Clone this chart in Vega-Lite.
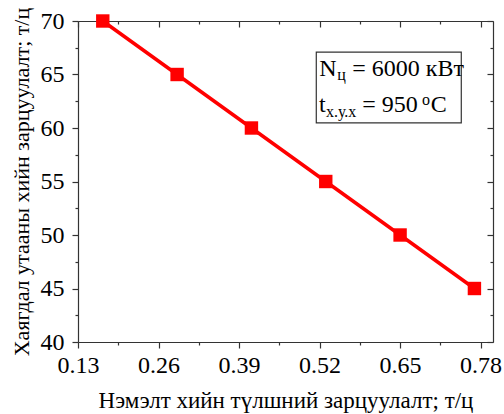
{
  "$schema": "https://vega.github.io/schema/vega-lite/v6.json",
  "width": 415,
  "height": 321,
  "autosize": "none",
  "padding": {"left": 78, "top": 21, "right": 11, "bottom": 72},
  "background": "white",
  "config": {
    "view": {"stroke": null},
    "font": "'Liberation Serif', 'Times New Roman', 'DejaVu Serif', serif",
    "axis": {
      "grid": false,
      "domainColor": "#333333",
      "domainWidth": 1.2,
      "tickColor": "#333333",
      "tickWidth": 1.2,
      "labelColor": "#000000",
      "labelFont": "'Liberation Serif', 'Times New Roman', 'DejaVu Serif', serif",
      "labelFontSize": 24,
      "labelFlush": false,
      "labelOverlap": false,
      "labelBound": false,
      "titleFont": "'Liberation Serif', 'Times New Roman', 'DejaVu Serif', serif",
      "titleFontSize": 23,
      "titleFontWeight": "normal",
      "titleColor": "#000000"
    }
  },
  "datasets": {
    "series": [
      {"x": 0.17, "y": 70},
      {"x": 0.29, "y": 65},
      {"x": 0.41, "y": 60},
      {"x": 0.53, "y": 55},
      {"x": 0.65, "y": 50},
      {"x": 0.77, "y": 45}
    ],
    "box": [
      {"x": 0.5147, "x2": 0.7488, "y": 67.1, "y2": 60.47}
    ],
    "mainText": [
      {"x": 0.5196, "y": 64.86, "label": "N"},
      {"x": 0.5729, "y": 64.86, "label": "= 6000 кВт"},
      {"x": 0.519, "y": 61.52, "label": "t"},
      {"x": 0.589, "y": 61.52, "label": "= 950"},
      {"x": 0.6995, "y": 61.52, "label": "C"}
    ],
    "smallText": [
      {"x": 0.5485, "y": 64.5, "label": "ц"},
      {"x": 0.5303, "y": 61.03, "label": "х.у.х"},
      {"x": 0.6855, "y": 62.15, "label": "o"}
    ]
  },
  "resolve": {"axis": {"x": "independent", "y": "independent"}},
  "layer": [
    {
      "data": {"name": "series"},
      "mark": {"type": "line", "color": "#ff0000", "strokeWidth": 3.5},
      "encoding": {
        "x": {
          "field": "x", "type": "quantitative",
          "scale": {"domain": [0.13, 0.8], "nice": false, "zero": false},
          "axis": {
            "orient": "bottom",
            "title": "Нэмэлт хийн түлшний зарцуулалт; т/ц",
            "values": [0.13, 0.195, 0.26, 0.325, 0.39, 0.455, 0.52, 0.585, 0.65, 0.715, 0.78],
            "labelExpr": "round(datum.value*1000) % 130 == 0 ? format(datum.value, '.2f') : ''",
            "tickSize": {"condition": {"test": "round(datum.value*1000) % 130 == 0", "value": 6}, "value": 3},
            "labelPadding": 5,
            "titlePadding": 12
          }
        },
        "y": {
          "field": "y", "type": "quantitative",
          "scale": {"domain": [40, 70], "nice": false, "zero": false},
          "axis": {
            "orient": "left",
            "title": "Хаягдал утааны хийн зарцуулалт; т/ц",
            "titleFontSize": 22,
            "values": [40, 42.5, 45, 47.5, 50, 52.5, 55, 57.5, 60, 62.5, 65, 67.5, 70],
            "labelExpr": "datum.value % 5 == 0 ? datum.value : ''",
            "tickSize": {"condition": {"test": "datum.value % 5 == 0", "value": 6}, "value": 3},
            "labelPadding": 8,
            "titlePadding": 7
          }
        }
      }
    },
    {
      "data": {"name": "series"},
      "mark": {"type": "point", "shape": "square", "filled": true, "size": 180, "color": "#ff0000", "opacity": 1},
      "encoding": {
        "x": {"field": "x", "type": "quantitative", "axis": null},
        "y": {"field": "y", "type": "quantitative", "axis": null}
      }
    },
    {
      "data": {"name": "box"},
      "mark": {"type": "rect", "fill": "white", "fillOpacity": 0, "stroke": "#333333", "strokeWidth": 1.2},
      "encoding": {
        "x": {"field": "x", "type": "quantitative", "axis": null},
        "x2": {"field": "x2"},
        "y": {"field": "y", "type": "quantitative", "axis": null},
        "y2": {"field": "y2"}
      }
    },
    {
      "data": {"name": "mainText"},
      "mark": {"type": "text", "align": "left", "baseline": "alphabetic", "fontSize": 24, "color": "#000000", "font": "'Liberation Serif', 'Times New Roman', 'DejaVu Serif', serif"},
      "encoding": {
        "x": {"field": "x", "type": "quantitative", "axis": null},
        "y": {"field": "y", "type": "quantitative", "axis": null},
        "text": {"field": "label"}
      }
    },
    {
      "data": {"name": "smallText"},
      "mark": {"type": "text", "align": "left", "baseline": "alphabetic", "fontSize": 16, "color": "#000000", "font": "'Liberation Serif', 'Times New Roman', 'DejaVu Serif', serif"},
      "encoding": {
        "x": {"field": "x", "type": "quantitative", "axis": null},
        "y": {"field": "y", "type": "quantitative", "axis": null},
        "text": {"field": "label"}
      }
    },
    {
      "data": {"name": "series"},
      "mark": {"type": "point", "opacity": 0},
      "encoding": {
        "x": {
          "field": "x", "type": "quantitative",
          "axis": {
            "orient": "top",
            "title": null,
            "labels": false,
            "values": [0.13, 0.195, 0.26, 0.325, 0.39, 0.455, 0.52, 0.585, 0.65, 0.715, 0.78],
            "tickSize": {"condition": {"test": "round(datum.value*1000) % 130 == 0", "value": -6}, "value": -3}
          }
        },
        "y": {
          "field": "y", "type": "quantitative",
          "axis": {
            "orient": "right",
            "title": null,
            "labels": false,
            "values": [40, 42.5, 45, 47.5, 50, 52.5, 55, 57.5, 60, 62.5, 65, 67.5, 70],
            "tickSize": {"condition": {"test": "datum.value % 5 == 0", "value": -6}, "value": -3}
          }
        }
      }
    }
  ]
}
